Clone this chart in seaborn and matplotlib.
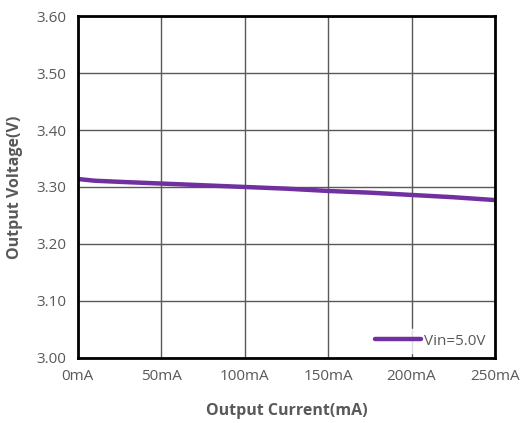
import pandas as pd
import seaborn as sns
import matplotlib.pyplot as plt

# data
current_ma = [0, 10, 25, 50, 75, 100, 125, 150, 175, 200, 225, 250]
voltage_v = [3.314, 3.311, 3.309, 3.306, 3.303, 3.300, 3.297, 3.293, 3.290, 3.286, 3.282, 3.277]
series_name = "Vin=5.0V"
x_ticks = [0, 50, 100, 150, 200, 250]
x_labels = ["0mA", "50mA", "100mA", "150mA", "200mA", "250mA"]
y_ticks = [3.00, 3.10, 3.20, 3.30, 3.40, 3.50, 3.60]

df = pd.DataFrame({"current": current_ma, "voltage": voltage_v, "series": series_name})

sns.set_style("white")
plt.rcParams["font.family"] = ["Open Sans", "DejaVu Sans"]

fig = plt.figure(figsize=(5.26, 4.23), dpi=100)
ax = fig.add_axes([0.148, 0.154, 0.793, 0.808])

sns.lineplot(data=df, x="current", y="voltage", hue="series", palette=["#7030A0"],
             linewidth=3.2, ax=ax)

ax.set_xlim(0, 250)
ax.set_ylim(3.0, 3.6)
ax.set_xticks(x_ticks)
ax.set_xticklabels(x_labels)
ax.set_yticks(y_ticks)
ax.set_yticklabels([f"{v:.2f}" for v in y_ticks])
ax.tick_params(axis="both", length=0, labelsize=11, colors="#595959", pad=8)
ax.grid(True, color="#595959", linewidth=1.0)
ax.set_axisbelow(True)
for s in ax.spines.values():
    s.set_color("black")
    s.set_linewidth(2.0)

ax.set_xlabel("Output Current(mA)", fontsize=11.5, fontweight="bold", color="#595959", labelpad=14)
ax.set_ylabel("Output Voltage(V)", fontsize=11.5, fontweight="bold", color="#595959", labelpad=10)

leg = ax.legend(loc="lower right", frameon=True, fontsize=11, handlelength=3.0,
                handletextpad=0.2, borderaxespad=0.3, borderpad=0.3)
leg.get_frame().set_facecolor("white")
leg.get_frame().set_edgecolor("white")
for t in leg.get_texts():
    t.set_color("#595959")

fig.savefig("out.png", dpi=100)
